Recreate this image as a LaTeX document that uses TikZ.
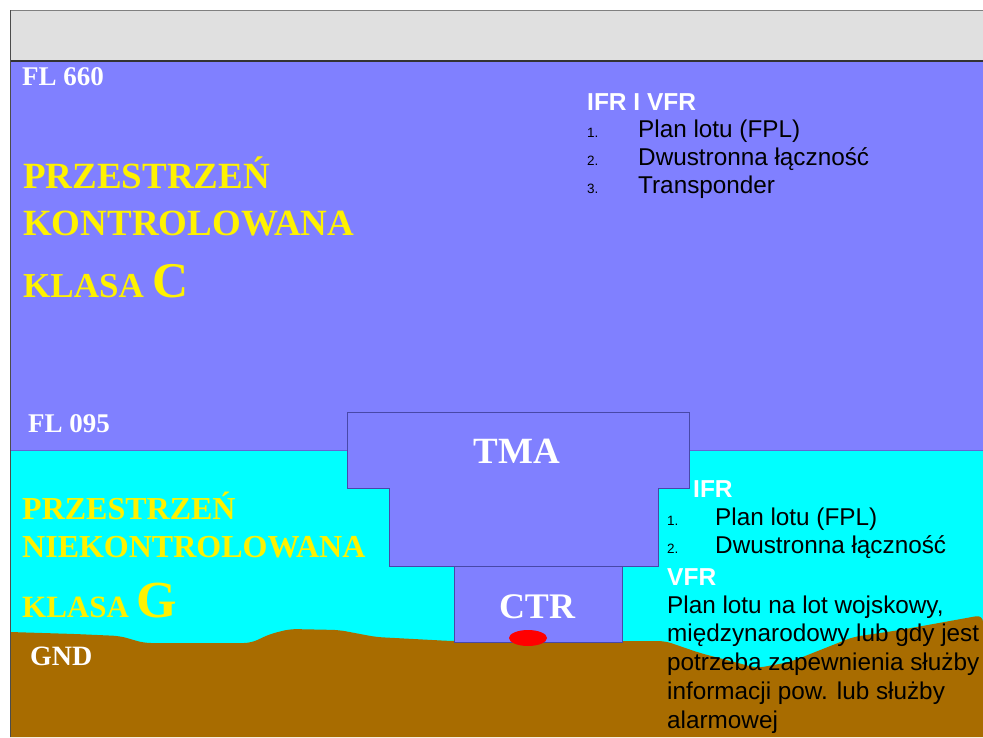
\documentclass[tikz,border=0pt]{standalone}
\usepackage{fontspec}
\setmainfont{Liberation Serif}
\newfontfamily\arialfont{Liberation Sans}
\definecolor{skyblue}{HTML}{8080FF}
\definecolor{lowcyan}{HTML}{00FFFF}
\definecolor{earth}{HTML}{A86C00}
\definecolor{barfill}{HTML}{E0E0E0}
\definecolor{zoneline}{HTML}{4848A8}
\tikzset{
  fl/.style={anchor=base west,inner sep=0pt,text=white,font=\bfseries\fontsize{27}{30}\selectfont},
  spacename/.style={anchor=base west,inner sep=0pt,text=yellow,font=\bfseries\fontsize{#1}{#1}\selectfont},
  zonename/.style={anchor=base,inner sep=0pt,text=white,font=\bfseries\fontsize{37}{40}\selectfont},
  zone/.style={fill=skyblue,draw=zoneline,line width=0.8pt},
  head/.style={anchor=base west,inner sep=0pt,text=white,font=\arialfont\bfseries\fontsize{24.5}{28}\selectfont},
  item/.style={anchor=base west,inner sep=0pt,font=\arialfont\fontsize{24.3}{28}\selectfont},
  num/.style={anchor=base west,inner sep=0pt,font=\arialfont\fontsize{13.5}{16}\selectfont},
}
\begin{document}
\begin{tikzpicture}[x=1pt,y=-1pt]
\useasboundingbox (0,0) rectangle (983,737);
\fill[white] (0,0) rectangle (983,737);
% belka u gory
\fill[barfill] (10,10) rectangle (983,61);
\draw[gray,line width=1.5pt] (10,10.5) -- (983,10.5);
% przestrzenie
\fill[skyblue] (10,61) rectangle (983,450);
\fill[lowcyan] (10,450) rectangle (983,737);
\draw[zoneline!50!skyblue,line width=0.8pt] (10,450) -- (983,450);
\draw[black!80,line width=2pt] (10,61) -- (983,61);
% teren
\fill[earth,rounded corners=7pt] (10,632) -- (75,634) -- (120,636) -- (144,643) -- (251,643)
    -- (270,634) -- (290,629) -- (339,630) -- (376,637) -- (451,641) -- (665,641)
    -- (700,653) -- (757,668) -- (790,662) -- (853,637) -- (900,630) -- (983,615)
    [sharp corners] -- (983,737) -- (10,737) -- cycle;
\draw[gray!60!black,line width=1pt] (10.5,10) -- (10.5,737);
% TMA i CTR
\draw[zone] (347,412) -- (689,412) -- (689,488) -- (658,488) -- (658,566)
    -- (389,566) -- (389,488) -- (347,488) -- cycle;
\draw[zone] (454,566) rectangle (622,642);
\fill[red] (528,638) ellipse [x radius=19,y radius=8];
\node[zonename] (tma) at (517,463) {TMA};
\node[zonename,font=\bfseries\fontsize{36}{40}\selectfont] (ctr) at (537,618) {CTR};
% poziomy
\node[fl] (fl660) at (22,85) {FL 660};
\node[fl] (fl095) at (28,432) {FL 095};
\node[fl,font=\bfseries\fontsize{28}{30}\selectfont] (gnd) at (30,665) {GND};
% klasa C
\node[spacename=37] (przestrzenC) at (23,188) {PRZESTRZEŃ};
\node[spacename=37] (kontrolowana) at (23,235) {KONTROLOWANA};
\node[spacename=35] (klasaC) at (23,297) {KLASA {\fontsize{50}{50}\selectfont C}};
% klasa G
\node[spacename=32] (przestrzenG) at (22,519) {PRZESTRZEŃ};
\node[spacename=32] (niekontrolowana) at (22,557) {NIEKONTROLOWANA};
\node[spacename=31] (klasaG) at (22,617) {KLASA {\fontsize{52}{52}\selectfont G}};
% wymagania C
\node[head] (ifrvfr) at (587,110) {IFR I VFR};
\node[num] (numa) at (587,137) {1.};
\node[item] (fplC) at (638,137) {Plan lotu (FPL)};
\node[num] (numb) at (587,165) {2.};
\node[item] (radioC) at (638,165) {Dwustronna łączność};
\node[num] (numc) at (587,193) {3.};
\node[item] (transponder) at (638,193) {Transponder};
% wymagania G
\node[head] (ifr) at (693,497) {IFR};
\node[num] (numd) at (667,525) {1.};
\node[item] (fplG) at (715,525) {Plan lotu (FPL)};
\node[num] (nume) at (667,553) {2.};
\node[item] (radioG) at (715,553) {Dwustronna łączność};
\node[head] (vfr) at (667,585) {VFR};
\foreach \txt [count=\i from 0] in {{Plan lotu na lot wojskowy,},{międzynarodowy lub gdy jest},
    {potrzeba zapewnienia służby},{informacji pow. lub służby},{alarmowej}}
  \node[item] (vfrline\i) at (667,{613+28.75*\i}) {\txt};
\end{tikzpicture}
\end{document}
